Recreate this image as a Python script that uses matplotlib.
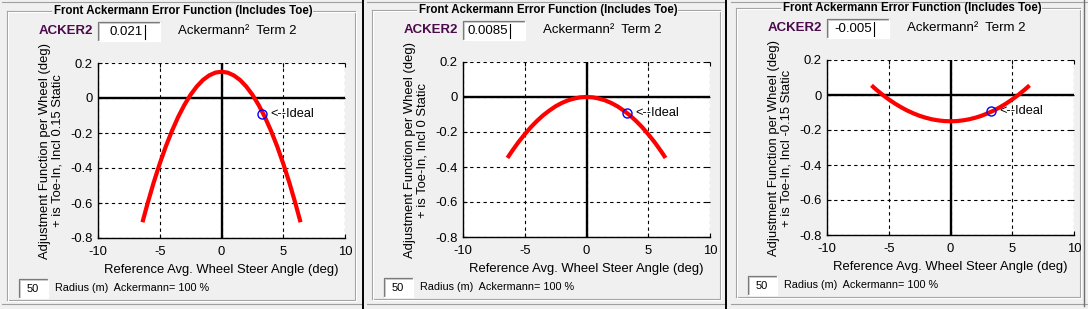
import matplotlib
matplotlib.use("Agg")
import matplotlib.pyplot as plt
from matplotlib.patches import Rectangle
from matplotlib.lines import Line2D

W, H = 1088, 309

# ── data ─────────────────────────────────────────────────────────────
ACKER2_VALUES = ["0.021", "0.0085", "-0.005"]
STATIC_LABELS = ["0.15", "0", "-0.15"]

STEER_DEG = [-6.4, -6.0, -5.5, -5.0, -4.5, -4.0, -3.5, -3.0, -2.5, -2.0, -1.5, -1.0, -0.5, 0.0,
             0.5, 1.0, 1.5, 2.0, 2.5, 3.0, 3.5, 4.0, 4.5, 5.0, 5.5, 6.0, 6.4]
ERR_1 = [-0.710, -0.606, -0.485, -0.375, -0.275, -0.186, -0.107, -0.039, 0.019, 0.066, 0.103, 0.129, 0.145, 0.150,
         0.145, 0.129, 0.103, 0.066, 0.019, -0.039, -0.107, -0.186, -0.275, -0.375, -0.485, -0.606, -0.710]
ERR_2 = [-0.348, -0.306, -0.257, -0.213, -0.172, -0.136, -0.104, -0.077, -0.053, -0.034, -0.019, -0.009, -0.002, 0.0,
         -0.002, -0.009, -0.019, -0.034, -0.053, -0.077, -0.104, -0.136, -0.172, -0.213, -0.257, -0.306, -0.348]
ERR_3 = [0.055, 0.030, 0.001, -0.025, -0.049, -0.070, -0.089, -0.105, -0.119, -0.130, -0.139, -0.145, -0.149, -0.150,
         -0.149, -0.145, -0.139, -0.130, -0.119, -0.105, -0.089, -0.070, -0.049, -0.025, 0.001, 0.030, 0.055]
CURVES = [ERR_1, ERR_2, ERR_3]

IDEAL_X, IDEAL_Y = 3.3, -0.09
X_TICKS = [-10, -5, 0, 5, 10]
Y_TICKS = [0.2, 0, -0.2, -0.4, -0.6, -0.8]
Y_TICK_LABELS = ["0.2", "0", "-0.2", "-0.4", "-0.6", "-0.8"]

# panel horizontal offset, vertical offset (pixels)
PANEL_X = [0, 365, 729]
PANEL_DY = [0, -1, -3]

plt.rcParams["font.family"] = ["Liberation Sans", "DejaVu Sans"]
plt.rcParams["axes.unicode_minus"] = False
BG = "#f0f0f0"

fig = plt.figure(figsize=(W / 100, H / 100), dpi=100, facecolor=BG)
bg = fig.add_axes([0, 0, 1, 1], zorder=0)
bg.set_xlim(0, W)
bg.set_ylim(H, 0)
bg.axis("off")


def px_axes(left, top, right, bottom):
    return fig.add_axes([left / W, 1 - bottom / H, (right - left) / W, (bottom - top) / H], zorder=2)


def sunken_box(x0, y0, x1, y1):
    bg.add_patch(Rectangle((x0, y0), x1 - x0, y1 - y0, facecolor="white", edgecolor="none"))
    bg.add_line(Line2D([x0, x0, x1], [y1, y0, y0], color="#7a7a7a", lw=0.9))
    bg.add_line(Line2D([x0 + 1, x0 + 1, x1 - 1], [y1 - 1, y0 + 1, y0 + 1], color="#c8c8c8", lw=0.7))
    bg.add_line(Line2D([x0, x1, x1], [y1, y1, y0], color="white", lw=0.9))


def group_box(x0, y0, x1, y1, title, tx, tw):
    for off, col in [(0, "#a0a0a0"), (1, "white")]:
        bg.add_line(Line2D([x0 + off, x0 + off], [y0 + off, y1 + off], color=col, lw=0.8))
        bg.add_line(Line2D([x1 + off, x1 + off], [y0 + off, y1 + off], color=col, lw=0.8))
        bg.add_line(Line2D([x0 + off, x1 + off], [y1 + off, y1 + off], color=col, lw=0.8))
        bg.add_line(Line2D([x0 + off, tx - 3], [y0 + off, y0 + off], color=col, lw=0.8))
        bg.add_line(Line2D([tx + tw + 3, x1 + off], [y0 + off, y0 + off], color=col, lw=0.8))
    bg.text(tx, y0, title, ha="left", va="center", fontsize=8.3, fontweight="bold")


for i in range(3):
    ox, dy = PANEL_X[i], PANEL_DY[i]

    # window chrome
    bg.add_line(Line2D([ox + 2, ox + 361], [2, 2], color="#a0a0a0", lw=0.8))
    bg.add_line(Line2D([ox + 2, ox + 361], [304, 304], color="#a0a0a0", lw=0.8))
    group_box(ox + 7, 11 + dy, ox + 355 if i < 2 else ox + 351, 300 + dy,
              "Front Ackermann Error Function (Includes Toe)", ox + 54, 256)

    bg.text(ox + 39, 31 + dy, "ACKER2", ha="left", va="center", fontsize=9.5,
            fontweight="bold", color="#4b0a4b")
    sunken_box(ox + 98, 22 + dy, ox + 160, 41 + dy)
    bg.text(ox + 143, 32 + dy, ACKER2_VALUES[i], ha="right", va="center", fontsize=9.5)
    bg.add_line(Line2D([ox + 145, ox + 145], [25 + dy, 39 + dy], color="black", lw=0.8))
    bg.text(ox + 178, 31 + dy, "Ackermann\u00b2  Term 2", ha="left", va="center", fontsize=9.5)

    sunken_box(ox + 19, 279 + dy, ox + 48, 298 + dy)
    bg.text(ox + 33, 289 + dy, "50", ha="center", va="center", fontsize=8)
    bg.text(ox + 55, 288 + dy, "Radius (m)  Ackermann= 100 %", ha="left", va="center", fontsize=7.8)

    bg.text(ox + 51, 151 + dy,
            "Adjustment Function per Wheel (deg)\n+ is Toe-In, Incl %s Static" % STATIC_LABELS[i],
            rotation=90, ha="center", va="center", multialignment="center",
            fontsize=9.4, linespacing=1.05)

    ax = px_axes(ox + 98, 63 + dy, ox + 345, 238 + dy)
    ax.set_facecolor("white")
    ax.set_xlim(-10, 10)
    ax.set_ylim(-0.8, 0.2)
    ax.set_xticks(X_TICKS)
    ax.set_yticks(Y_TICKS)
    ax.set_yticklabels(Y_TICK_LABELS)
    ax.tick_params(direction="in", length=3, width=0.8, labelsize=9.4)
    ax.tick_params(axis="x", pad=6)
    ax.tick_params(axis="y", pad=4)
    ax.tick_params(top=True, right=True)
    for s in ["top", "right"]:
        ax.spines[s].set_visible(False)
    for s in ["left", "bottom"]:
        ax.spines[s].set_linewidth(1)
    ax.grid(True, color="black", linestyle=(0, (3, 3)), linewidth=0.8)
    ax.axhline(0, color="black", lw=1.7, zorder=3)
    ax.axvline(0, color="black", lw=1.7, zorder=3)
    ax.plot(STEER_DEG, CURVES[i], color="red", lw=3, zorder=4, solid_capstyle="butt")
    ax.plot([IDEAL_X], [IDEAL_Y], "o", mfc="none", mec="blue", ms=6.5, mew=1, zorder=5)
    ax.annotate("<--Ideal", (IDEAL_X, IDEAL_Y), xytext=(6, 0), textcoords="offset points",
                ha="left", va="center", fontsize=9.2)
    ax.set_xlabel("Reference Avg. Wheel Steer Angle (deg)", fontsize=9.4, labelpad=4)

# panel separators and right edge
for x in [363, 726]:
    bg.add_line(Line2D([x, x], [0, H], color="black", lw=1.4))
bg.add_line(Line2D([1084, 1084], [0, 306], color="#707070", lw=1))

fig.savefig("out.png", dpi=100, facecolor=BG)
